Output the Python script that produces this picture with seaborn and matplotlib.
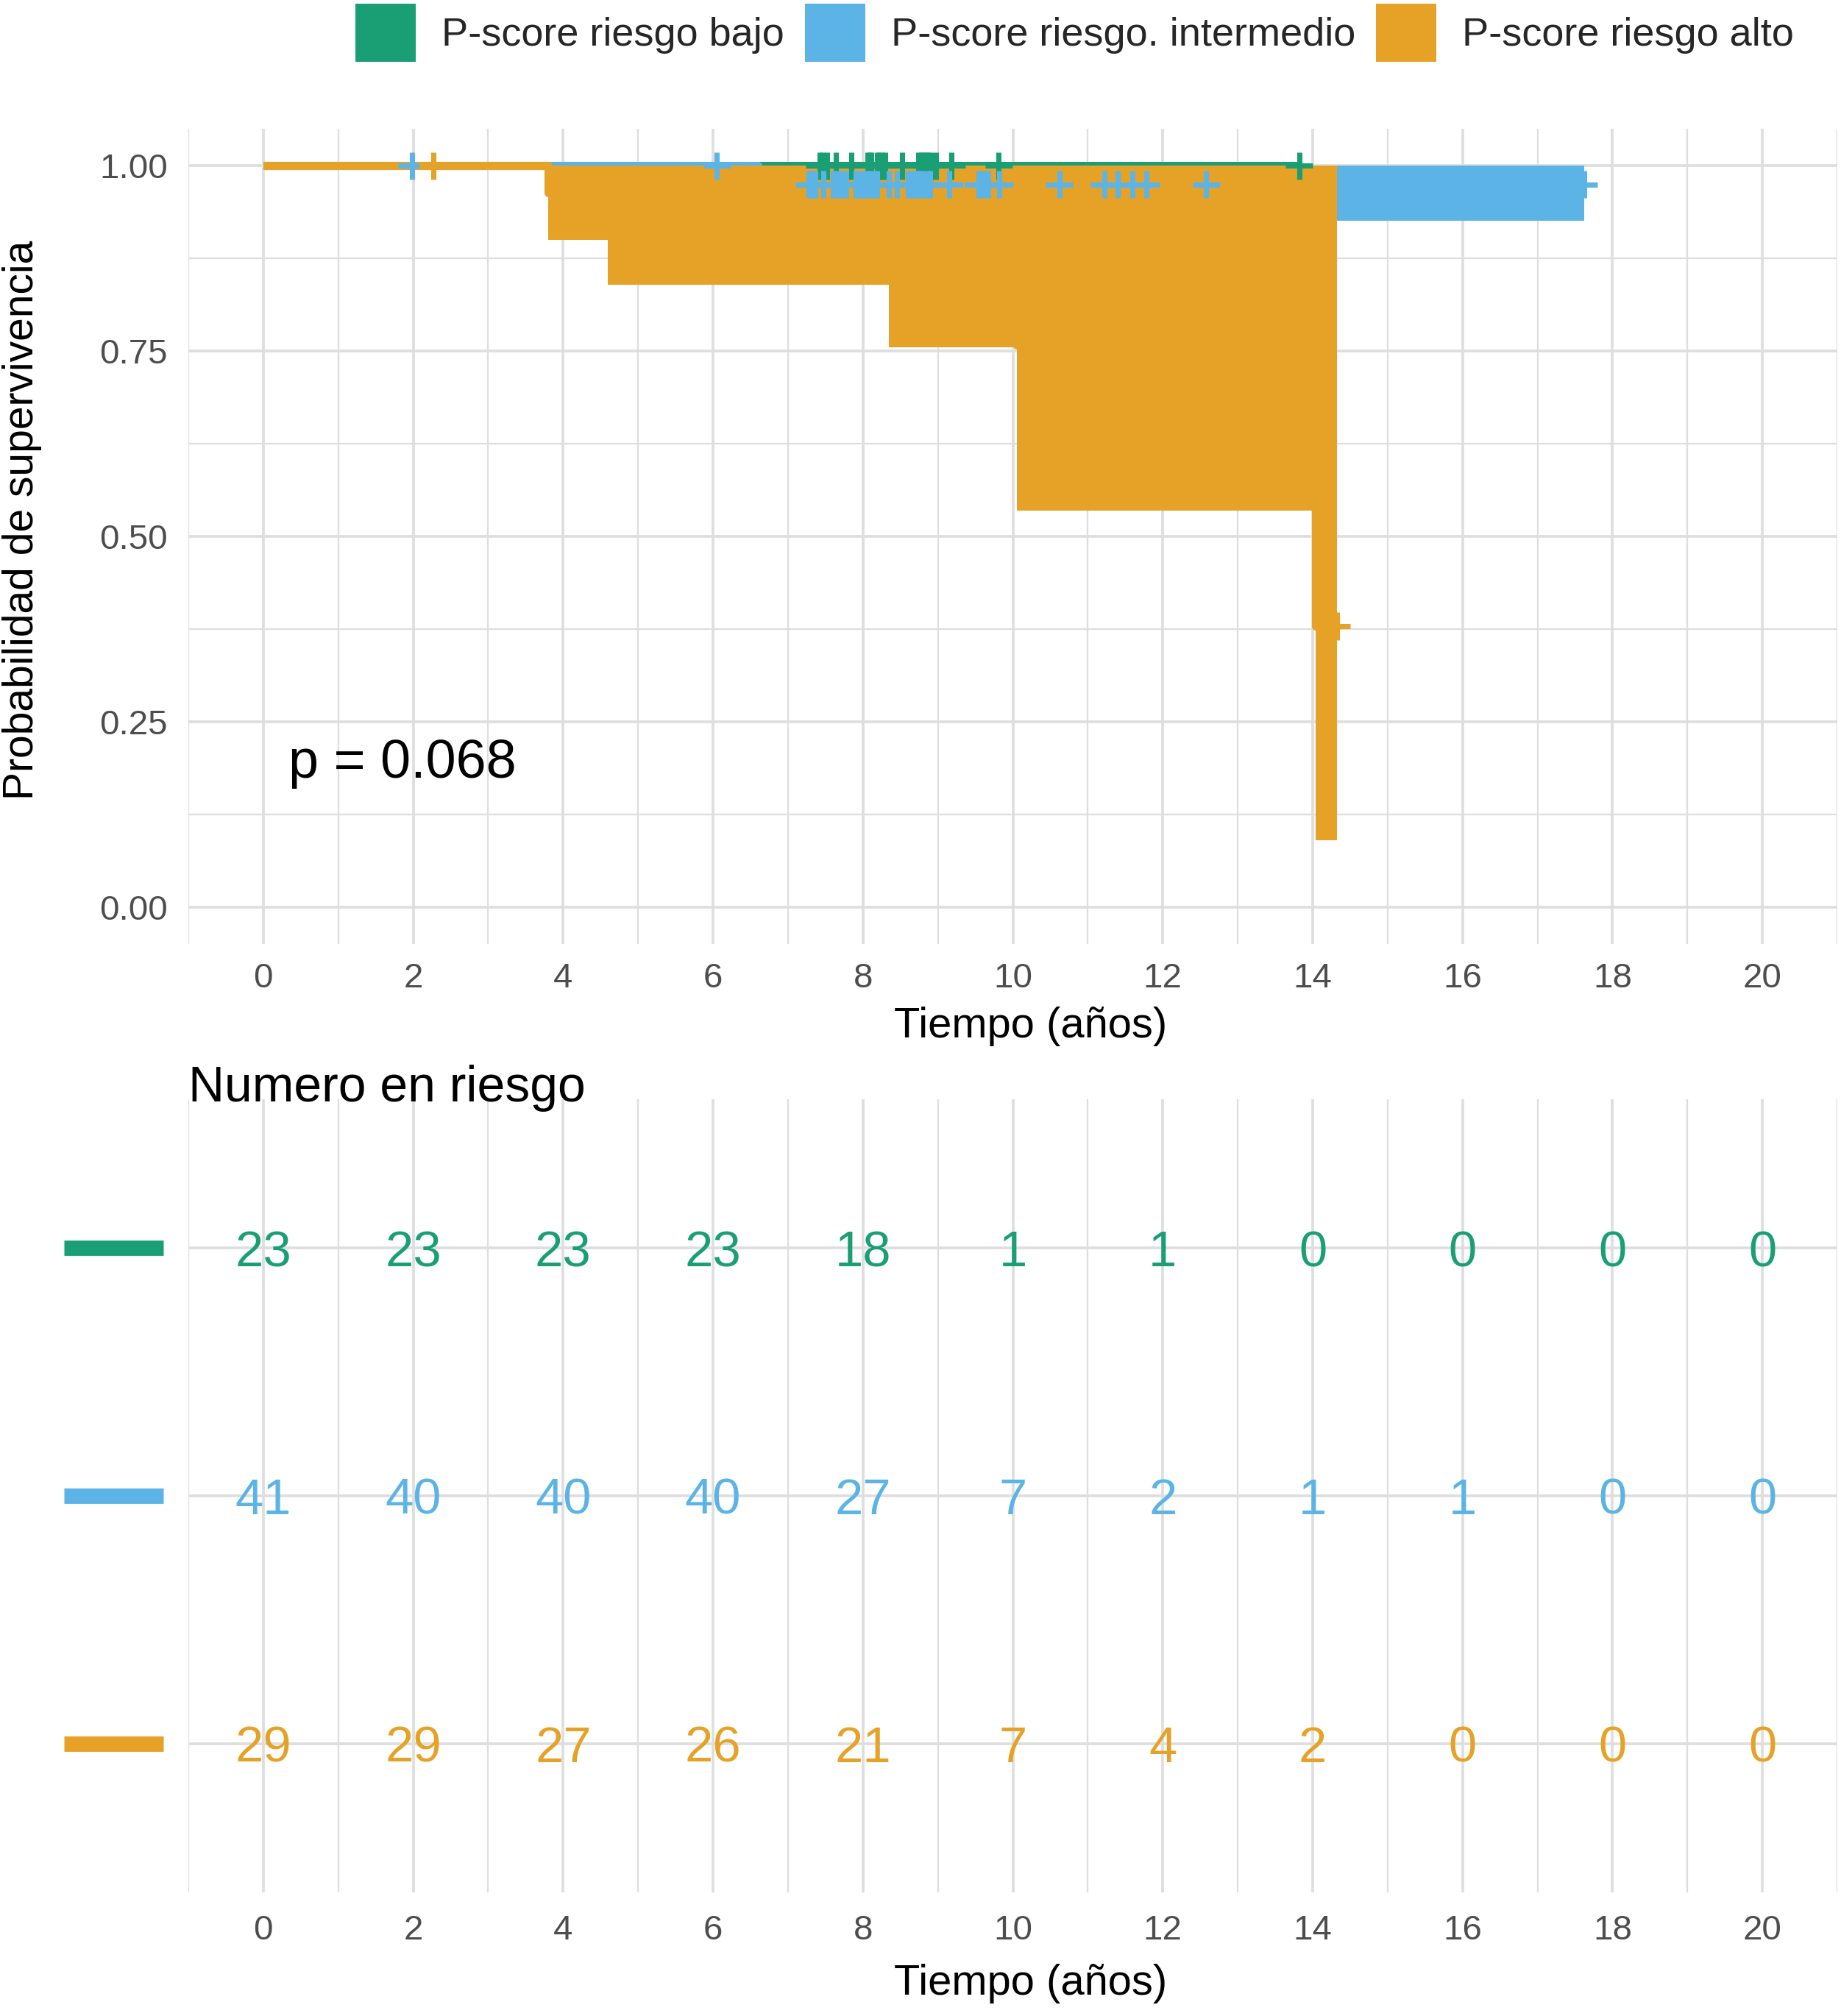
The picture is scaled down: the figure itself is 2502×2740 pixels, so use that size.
#%% importar librerias
import matplotlib
matplotlib.use("Agg")
import matplotlib.pyplot as plt
import matplotlib.transforms as mtransforms
from matplotlib.patches import Patch
import numpy as np
import pandas as pd
import seaborn as sns

#%% datos
grupos = ["P-score riesgo bajo", "P-score riesgo. intermedio", "P-score riesgo alto"]
colores = ["#1A9F75", "#5BB4E5", "#E6A227"]

# curvas de Kaplan-Meier (tiempo de cada escalon y supervivencia)
bajo_t = [0, 13.82]
bajo_s = [1.0, 1.0]
inter_t = [0, 6.6, 17.62]
inter_s = [1.0, 0.975, 0.975]
alto_t = [0, 3.8, 4.6, 8.35, 10.05, 14.04, 14.32]
alto_s = [1.0, 0.964, 0.929, 0.885, 0.758, 0.379, 0.379]

# intervalos de confianza
inter_ci_t = [6.6, 17.62]
inter_ci_lo = [0.926, 0.926]
inter_ci_hi = [1.0, 1.0]
alto_ci_t = [3.8, 4.6, 8.35, 10.05, 14.04, 14.32]
alto_ci_lo = [0.90, 0.84, 0.755, 0.535, 0.09, 0.09]
alto_ci_hi = [1.0, 1.0, 1.0, 1.0, 1.0, 1.0]

# censuras
bajo_cens_t = [7.42, 7.46, 7.52, 7.64, 7.85, 8.06, 8.09, 8.11, 8.19, 8.22, 8.26,
               8.30, 8.52, 8.74, 8.78, 8.81, 8.84, 8.87, 8.91, 8.97, 9.18, 9.81, 13.82]
inter_cens_t = [1.98, 6.05,
                7.28, 7.32, 7.36, 7.47, 7.60, 7.64, 7.71, 7.78, 7.90, 7.94, 7.98,
                8.02, 8.06, 8.10, 8.14, 8.19, 8.35, 8.45, 8.60, 8.64, 8.68, 8.72,
                8.76, 8.80, 8.87, 8.90, 9.15, 9.54, 9.60, 9.67, 9.82,
                10.62, 11.22, 11.40, 11.60, 11.78, 12.58, 17.62]
alto_cens_t = [2.27, 14.32]

# tabla de numero en riesgo
tiempos_tabla = [0, 2, 4, 6, 8, 10, 12, 14, 16, 18, 20]
riesgo_bajo = [23, 23, 23, 23, 18, 1, 1, 0, 0, 0, 0]
riesgo_inter = [41, 40, 40, 40, 27, 7, 2, 1, 1, 0, 0]
riesgo_alto = [29, 29, 27, 26, 21, 7, 4, 2, 0, 0, 0]

p_valor = "p = 0.068"

#%% funcion de supervivencia en un tiempo (escalon)
def surv_en(t_pasos, s_pasos, t):
    idx = np.searchsorted(t_pasos, t, side="right") - 1
    return s_pasos[idx]

curvas = pd.concat([
    pd.DataFrame({"tiempo": bajo_t, "surv": bajo_s, "grupo": grupos[0]}),
    pd.DataFrame({"tiempo": inter_t, "surv": inter_s, "grupo": grupos[1]}),
    pd.DataFrame({"tiempo": alto_t, "surv": alto_s, "grupo": grupos[2]}),
], ignore_index=True)

cens = pd.concat([
    pd.DataFrame({"tiempo": bajo_cens_t,
                  "surv": [surv_en(bajo_t, bajo_s, t) for t in bajo_cens_t],
                  "grupo": grupos[0]}),
    pd.DataFrame({"tiempo": inter_cens_t,
                  "surv": [surv_en(inter_t, inter_s, t) for t in inter_cens_t],
                  "grupo": grupos[1]}),
    pd.DataFrame({"tiempo": alto_cens_t,
                  "surv": [surv_en(alto_t, alto_s, t) for t in alto_cens_t],
                  "grupo": grupos[2]}),
], ignore_index=True)

paleta = dict(zip(grupos, colores))

#%% estilo
sns.set_theme(style="white")
plt.rcParams["font.family"] = ["Liberation Sans", "DejaVu Sans"]
gris_grid = "#DEDEDE"
gris_txt = "#4D4D4D"

W, H = 2502, 2740
fig = plt.figure(figsize=(W / 300, H / 300), dpi=300)

ax = fig.add_axes([256 / W, 1 - 1283 / H, (2497 - 256) / W, (1283 - 175) / H])
ax_t = fig.add_axes([256 / W, 1 - 2572 / H, (2497 - 256) / W, (2572 - 1494) / H])


def estilo_ejes(a):
    for s in a.spines.values():
        s.set_visible(False)
    a.set_axisbelow(True)
    a.grid(which="major", color=gris_grid, lw=0.9)
    a.grid(which="minor", color=gris_grid, lw=0.55)
    a.tick_params(which="major", length=3.5, width=1.3, color="black",
                  labelcolor=gris_txt, labelsize=11.4, pad=2.5)
    a.tick_params(which="minor", length=0)
    a.set_xlim(-1, 21)
    a.set_xticks(np.arange(0, 21, 2))
    a.set_xticks(np.arange(-1, 22, 2), minor=True)


#%% grafico de supervivencia
estilo_ejes(ax)
sns.lineplot(data=curvas, x="tiempo", y="surv", hue="grupo", hue_order=grupos,
             palette=paleta, drawstyle="steps-post", estimator=None, sort=False,
             lw=2.65, solid_capstyle="butt", solid_joinstyle="round",
             legend=False, ax=ax, zorder=2)

ax.fill_between(inter_ci_t, inter_ci_lo, inter_ci_hi, step="post",
                color=colores[1], lw=0, zorder=3)
ax.fill_between(alto_ci_t, alto_ci_lo, alto_ci_hi, step="post",
                color=colores[2], lw=0, zorder=3)

sns.scatterplot(data=cens, x="tiempo", y="surv", hue="grupo", hue_order=grupos,
                palette=paleta, marker="+", s=80, linewidth=1.7,
                legend=False, ax=ax, zorder=4)

ax.set_ylim(-0.05, 1.05)
ax.set_yticks([0, 0.25, 0.5, 0.75, 1.0])
ax.set_yticks([0.125, 0.375, 0.625, 0.875], minor=True)
ax.set_yticklabels(["0.00", "0.25", "0.50", "0.75", "1.00"])
ax.tick_params(axis="y", pad=3.2)
ax.set_xlabel("Tiempo (años)", fontsize=13.9, labelpad=3.9, color="black")
ax.xaxis.label.set_x(0.5107)
ax.set_ylabel("Probabilidad de supervivencia", fontsize=13.7, color="black")
ax.yaxis.set_label_coords(-0.0888, 0.52)
ax.text(0.34, 0.174, p_valor, fontsize=17.7, color="black", va="baseline", ha="left")

#%% tabla de numero en riesgo
estilo_ejes(ax_t)
filas = [3, 2, 1]
ax_t.set_ylim(0.4, 3.6)
ax_t.set_yticks(filas)
ax_t.set_yticklabels([])
ax_t.tick_params(axis="y", length=0)
ax_t.tick_params(axis="x", pad=3.7)
ax_t.grid(axis="y", which="minor", visible=False)

desplaza = mtransforms.offset_copy(ax_t.transData, fig=fig, y=-25, units="dots")
for fila, riesgo, col in zip(filas, [riesgo_bajo, riesgo_inter, riesgo_alto], colores):
    for t, n in zip(tiempos_tabla, riesgo):
        ax_t.text(t, fila, str(n), color=col, fontsize=16.5, ha="center",
                  va="baseline", transform=desplaza)
    mezcla = mtransforms.blended_transform_factory(ax_t.transAxes, ax_t.transData)
    ax_t.plot([-0.0754, -0.0152], [fila, fila], color=col, lw=5,
              solid_capstyle="butt", transform=mezcla, clip_on=False)

ax_t.set_xlabel("Tiempo (años)", fontsize=13.9, labelpad=5.5, color="black")
ax_t.xaxis.label.set_x(0.5107)
ax_t.set_ylabel("")
ax_t.text(0, 0.997, "Numero en riesgo", transform=ax_t.transAxes, fontsize=16.3,
          color="black", ha="left", va="baseline")

#%% leyenda
manijas = [Patch(facecolor=c, edgecolor="none") for c in colores]
fig.legend(manijas, grupos, loc="upper left", bbox_to_anchor=(483 / W, 1 - 5 / H),
           ncol=3, frameon=False, fontsize=13, handlelength=1.51, handleheight=1.866,
           handletextpad=0.65, columnspacing=0.52, borderpad=0, borderaxespad=0)

fig.savefig("out.png", dpi=300)
